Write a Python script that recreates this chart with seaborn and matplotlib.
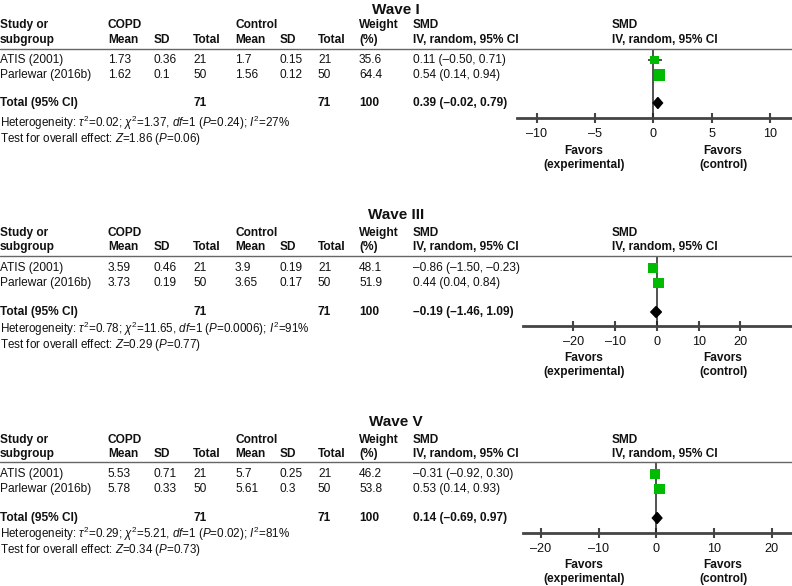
# Forest plots of SMD (COPD vs control) for waves I, III and V

import numpy as np
import pandas as pd
import matplotlib
matplotlib.use("Agg")
import matplotlib.pyplot as plt
from matplotlib.lines import Line2D
import seaborn as sns

sns.set_theme(style="white")
plt.rcParams['font.family'] = ['Liberation Sans', 'DejaVu Sans']
plt.rcParams['mathtext.fontset'] = 'custom'
plt.rcParams['mathtext.rm'] = 'Liberation Sans'
plt.rcParams['mathtext.it'] = 'Liberation Sans:italic'

# data
studies = ["ATIS (2001)", "Parlewar (2016b)"]
waves = ["Wave I", "Wave III", "Wave V"]
copd_mean = [[1.73, 1.62], [3.59, 3.73], [5.53, 5.78]]
copd_sd = [[0.36, 0.1], [0.46, 0.19], [0.71, 0.33]]
copd_n = [21, 50]
ctrl_mean = [[1.7, 1.56], [3.9, 3.65], [5.7, 5.61]]
ctrl_sd = [[0.15, 0.12], [0.19, 0.17], [0.25, 0.3]]
ctrl_n = [21, 50]
weights = [[35.6, 64.4], [48.1, 51.9], [46.2, 53.8]]
smd = [[0.11, 0.54], [-0.86, 0.44], [-0.31, 0.53]]
smd_lo = [[-0.50, 0.14], [-1.50, 0.04], [-0.92, 0.14]]
smd_hi = [[0.71, 0.94], [-0.23, 0.84], [0.30, 0.93]]
tot_est = [0.39, -0.19, 0.14]
tot_lo = [-0.02, -1.46, -0.69]
tot_hi = [0.79, 1.09, 0.97]
tau2 = ["0.02", "0.78", "0.29"]
chi2 = ["1.37", "11.65", "5.21"]
het_p = ["0.24", "0.0006", "0.02"]
i2 = ["27", "91", "81"]
z_val = ["1.86", "0.29", "0.34"]
z_p = ["0.06", "0.77", "0.73"]
xticks = [[-10, -5, 0, 5, 10], [-20, -10, 0, 10, 20], [-20, -10, 0, 10, 20]]

# layout (pixels from top)
W, H = 792, 586
layout = [
    dict(title=10, h1=25, h2=40, line=49, rows=[60, 75], total=103, het=123, test=139,
         axis=118, fav=[151, 165], left=517, xlim=(-11.7, 11.9)),
    dict(title=215, h1=233, h2=247, line=256, rows=[268, 283], total=312, het=329, test=345,
         axis=326, fav=[358, 372], left=523, xlim=(-32.1, 32.4)),
    dict(title=422, h1=440, h2=454, line=462, rows=[474, 489], total=518, het=534, test=550,
         axis=533, fav=[565, 579], left=523, xlim=(-23.1, 23.5)),
]
cols = [0, 108, 154, 193, 235, 280, 318, 359, 413]
green = "#00bb00"
fs = 8.6


def fx(x):
    return x / W


def fy(y):
    return 1 - y / H


fig = plt.figure(figsize=(W / 100, H / 100), dpi=100)


def txt(x, y, s, bold=False, ha='left', size=fs):
    fig.text(fx(x), fy(y), s, ha=ha, va='center', fontsize=size,
             fontweight='bold' if bold else 'normal', color='#111111')


def fmt(v):
    return f"{v:.2f}".replace("-", "\u2013")


for w, L in enumerate(layout):
    txt(396, L['title'], waves[w], bold=True, ha='center', size=11)
    # headers
    txt(cols[0], L['h1'], "Study or", bold=True)
    txt(cols[0], L['h2'], "subgroup", bold=True)
    txt(cols[1], L['h1'], "COPD", bold=True)
    txt(cols[1], L['h2'], "Mean", bold=True)
    txt(cols[2], L['h2'], "SD", bold=True)
    txt(cols[3], L['h2'], "Total", bold=True)
    txt(cols[4], L['h1'], "Control", bold=True)
    txt(cols[4], L['h2'], "Mean", bold=True)
    txt(cols[5], L['h2'], "SD", bold=True)
    txt(cols[6], L['h2'], "Total", bold=True)
    txt(cols[7], L['h1'], "Weight", bold=True)
    txt(cols[7], L['h2'], "(%)", bold=True)
    txt(cols[8], L['h1'], "SMD", bold=True)
    txt(cols[8], L['h2'], "IV, random, 95% CI", bold=True)
    txt(612, L['h1'], "SMD", bold=True)
    txt(612, L['h2'], "IV, random, 95% CI", bold=True)
    fig.add_artist(Line2D([0, 1], [fy(L['line'])] * 2, transform=fig.transFigure,
                          color='#666666', lw=1.0))

    # study rows
    for i, s in enumerate(studies):
        y = L['rows'][i]
        txt(cols[0], y, s)
        txt(cols[1], y, f"{copd_mean[w][i]:g}")
        txt(cols[2], y, f"{copd_sd[w][i]:g}")
        txt(cols[3], y, str(copd_n[i]))
        txt(cols[4], y, f"{ctrl_mean[w][i]:g}")
        txt(cols[5], y, f"{ctrl_sd[w][i]:g}")
        txt(cols[6], y, str(ctrl_n[i]))
        txt(cols[7], y, f"{weights[w][i]:.1f}")
        txt(cols[8], y, f"{fmt(smd[w][i])} ({fmt(smd_lo[w][i])}, {fmt(smd_hi[w][i])})")

    y = L['total']
    txt(cols[0], y, "Total (95% CI)", bold=True)
    txt(cols[3], y, str(sum(copd_n)), bold=True)
    txt(cols[6], y, str(sum(ctrl_n)), bold=True)
    txt(cols[7], y, "100", bold=True)
    txt(cols[8], y, f"{fmt(tot_est[w])} ({fmt(tot_lo[w])}, {fmt(tot_hi[w])})", bold=True)

    txt(cols[0], L['het'], r"Heterogeneity: $\tau^2$=" + tau2[w] + r"; $\chi^2$=" + chi2[w]
        + r", $df$=1 ($P$=" + het_p[w] + r"); $I^2$=" + i2[w] + "%", size=fs - 0.2)
    txt(cols[0], L['test'], r"Test for overall effect: $Z$=" + z_val[w]
        + r" ($P$=" + z_p[w] + ")", size=fs - 0.2)

    # forest axis: y data in pixel units (top = header line, bottom = axis line)
    ax = fig.add_axes([fx(L['left']), fy(L['axis']), fx(W - L['left']),
                       (L['axis'] - L['line']) / H])
    ax.set_xlim(*L['xlim'])
    ax.set_ylim(L['axis'], L['line'])
    ax.patch.set_alpha(0)
    for sp in ['top', 'left', 'right']:
        ax.spines[sp].set_visible(False)
    ax.spines['bottom'].set_color('#444444')
    ax.spines['bottom'].set_linewidth(2)
    ax.axvline(0, color='#222222', lw=1.1, zorder=1)

    df = pd.DataFrame({"smd": smd[w], "y": L['rows'], "weight": weights[w]})
    ax.hlines(df["y"], smd_lo[w], smd_hi[w], color='#222222', lw=1.1, zorder=2)
    sns.scatterplot(data=df, x="smd", y="y", size="weight",
                    sizes=(min(weights[w]) * 1.1, max(weights[w]) * 1.1),
                    size_norm=(min(weights[w]), max(weights[w])), marker='s', color=green,
                    edgecolor='none', legend=False, ax=ax, zorder=3, clip_on=False)
    yt = L['total']
    ax.fill([tot_lo[w], tot_est[w], tot_hi[w], tot_est[w]], [yt, yt - 5.5, yt, yt + 5.5],
            color='black', zorder=4, clip_on=False)

    ax.set_xticks(xticks[w])
    ax.set_xticklabels([str(t).replace("-", "\u2013") for t in xticks[w]], fontsize=fs + 0.5,
                       color='#111111')
    ax.tick_params(axis='x', direction='inout', length=7, width=1.5, color='#444444', pad=4,
                   bottom=True)
    ax.set_yticks([])
    ax.set_xlabel("")
    ax.set_ylabel("")

    txt(584, L['fav'][0], "Favors", bold=True, ha='center')
    txt(584, L['fav'][1], "(experimental)", bold=True, ha='center')
    txt(723, L['fav'][0], "Favors", bold=True, ha='center')
    txt(723, L['fav'][1], "(control)", bold=True, ha='center')

fig.savefig("out.png", dpi=100)
